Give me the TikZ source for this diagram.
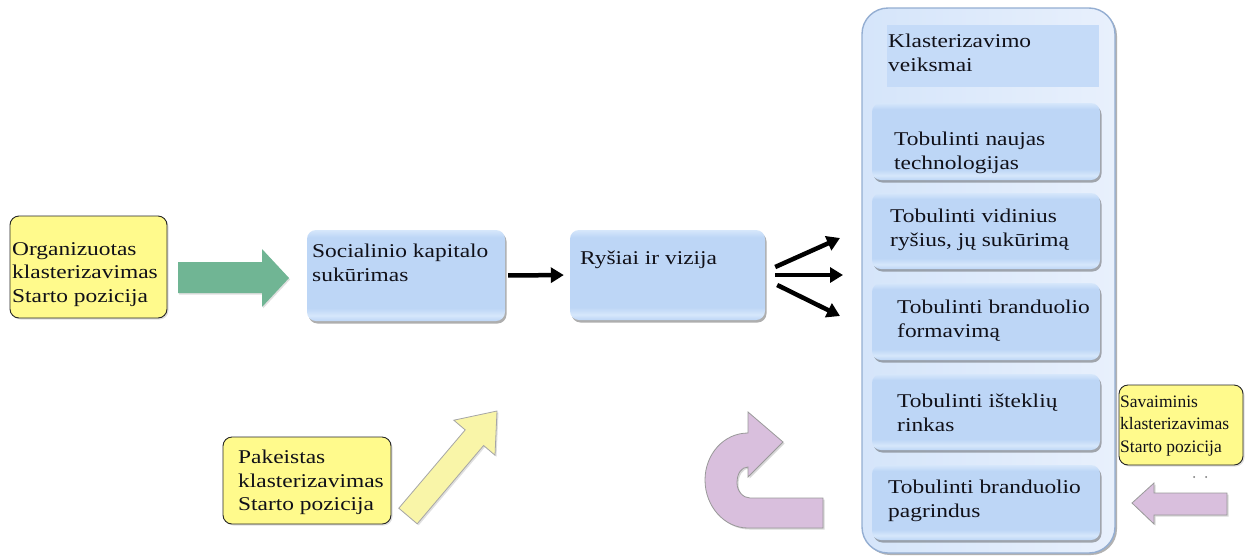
\documentclass[tikz,border=0pt]{standalone}
\usepackage{fontspec}
\setmainfont{Liberation Serif}[FakeStretch=1.2]
\newfontfamily\noteserif{Liberation Serif}
\usetikzlibrary{arrows.meta,shadows}

\definecolor{boxmid}{HTML}{BDD6F6}
\definecolor{boxlight}{HTML}{D6E7FB}
\definecolor{panelleft}{HTML}{D5E5FA}
\definecolor{panelright}{HTML}{E8F0FC}
\definecolor{panelrule}{HTML}{94AED2}
\definecolor{headfill}{HTML}{C5DBF8}
\definecolor{noteyellow}{HTML}{FFFA8C}
\definecolor{arrowgreen}{HTML}{70B594}
\definecolor{arrowyellow}{HTML}{F9F5A8}
\definecolor{arrowpink}{HTML}{D9BFDD}
\definecolor{inktext}{HTML}{101018}

% soft blue fill of the step boxes: light rim at the top, light band near the bottom
\pgfdeclareverticalshading{stepshade}{100bp}{
  color(0bp)=(boxmid); color(25bp)=(boxmid); color(28bp)=(boxlight);
  color(32bp)=(boxmid); color(71bp)=(boxmid); color(75bp)=(boxlight);
  color(100bp)=(boxlight)}

\newcommand{\mainsize}{\fontsize{19.5}{23.5}\selectfont}
\newcommand{\notesize}{\noteserif\fontsize{17.5}{22.5}\selectfont}

\tikzset{
  stepbox/.style={rounded corners=9pt, shade, shading=stepshade, inner sep=0pt,
    drop shadow={shadow xshift=1.5pt, shadow yshift=-2.5pt, opacity=0.45, fill=black!70}},
  panelbox/.style={rounded corners=26pt, draw=panelrule, line width=1.4pt,
    left color=panelleft, right color=panelright, inner sep=0pt,
    drop shadow={shadow xshift=2pt, shadow yshift=-2pt, opacity=0.5, fill=black!60}},
  notebox/.style={rounded corners=9pt, draw=black!85, line width=0.9pt, fill=noteyellow,
    inner sep=0pt, drop shadow={shadow xshift=1.5pt, shadow yshift=-1.5pt, opacity=0.25}},
  txt/.style={anchor=north west, inner sep=0pt, align=left, font=\mainsize, text=inktext},
  notetxt/.style={anchor=north west, inner sep=0pt, align=left, font=\notesize, text=inktext},
  link/.style={line width=4.5pt, black, -{Triangle[length=13pt,width=15pt]}},
  fatgreen/.style={fill=arrowgreen,
    drop shadow={shadow xshift=1pt, shadow yshift=-1.5pt, opacity=0.25}},
  fatyellow/.style={fill=arrowyellow, draw=black!35, line width=0.8pt,
    drop shadow={shadow xshift=1.5pt, shadow yshift=-1.5pt, opacity=0.25}},
  fatpink/.style={fill=arrowpink, draw=black!40, line width=0.8pt,
    drop shadow={shadow xshift=1.5pt, shadow yshift=-1.5pt, opacity=0.3}}
}

\begin{document}
\begin{tikzpicture}[x=1pt,y=-1pt]
\useasboundingbox[fill=white] (0,0) rectangle (1252,555);

% ---- panel of clustering actions ----
\node[panelbox, minimum width=253pt, minimum height=545pt] (panel) at (988.5,280.5) {};
\node[fill=headfill, inner sep=0pt, minimum width=212pt, minimum height=62pt] (head) at (993,56) {};
\node[txt] (headtxt) at (888,34) {Klasterizavimo\\veiksmai};

\node[stepbox, minimum width=228pt, minimum height=77pt] (t1) at (986,141.5) {};
\node[stepbox, minimum width=228pt, minimum height=76pt] (t2) at (986,231) {};
\node[stepbox, minimum width=228pt, minimum height=77pt] (t3) at (986,321.5) {};
\node[stepbox, minimum width=228pt, minimum height=76pt] (t4) at (986,412) {};
\node[stepbox, minimum width=228pt, minimum height=75pt] (t5) at (986,502.5) {};
\node[txt] (t1txt) at (894,132) {Tobulinti naujas\\technologijas};
\node[txt] (t2txt) at (890,209) {Tobulinti vidinius\\ryšius, jų sukūrimą};
\node[txt] (t3txt) at (897,300) {Tobulinti branduolio\\formavimą};
\node[txt] (t4txt) at (897,394) {Tobulinti išteklių\\rinkas};
\node[txt] (t5txt) at (888,480) {Tobulinti branduolio\\pagrindus};

% ---- main chain ----
\node[notebox, minimum width=157pt, minimum height=102pt] (org) at (88.5,267) {};
\node[txt] (orgtxt) at (12,242) {Organizuotas\\klasterizavimas\\Starto pozicija};

\node[stepbox, minimum width=198pt, minimum height=91pt] (soc) at (406,275.5) {};
\node[txt] (soctxt) at (312,244) {Socialinio kapitalo\\sukūrimas};

\node[stepbox, minimum width=195pt, minimum height=90pt] (rys) at (667.5,275) {};
\node[txt] (rystxt) at (580,251) {Ryšiai ir vizija};

% block arrow from the organised start into the chain
\path[fatgreen] (178,262) -- (262,262) -- (262,249) -- (289,278) -- (262,307)
  -- (262,293) -- (178,293) -- cycle;

\draw[link, shorten <=3pt, shorten >=6pt] (soc.east) -- (rys.west);

\coordinate (f1) at (840,238);
\coordinate (f2) at (843,275);
\coordinate (f3) at (840,316);
\draw[link] ([xshift=10pt,yshift=8pt]rys.east) -- (f1);
\draw[link] ([xshift=10pt]rys.east) -- (f2);
\draw[link] ([xshift=12pt,yshift=-10pt]rys.east) -- (f3);

% ---- changed start ----
\node[notebox, minimum width=168pt, minimum height=87pt] (pak) at (307,480.5) {};
\node[txt] (paktxt) at (238,450) {Pakeistas\\klasterizavimas\\Starto pozicija};
\path[fatyellow] (398.8,508.2) -- (465.2,429.9) -- (453.8,420.2) -- (497,411)
  -- (495,455.2) -- (483.6,445.5) -- (417.2,523.8) -- cycle;

% ---- U-turn arrow ----
\path[fatpink] (748,433) .. controls (724,433) and (705,454) .. (705,480)
  .. controls (705,506) and (724,528) .. (748,528) -- (823,528) -- (823,498)
  -- (750,498) .. controls (743,498) and (737,491) .. (737,483)
  .. controls (737,474) and (741,467) .. (748,467) -- (748,477) -- (783,442)
  -- (748,412) -- cycle;

% ---- spontaneous start ----
\node[notebox, minimum width=124pt, minimum height=80pt] (sav) at (1181,425) {};
\node[notetxt] (savtxt) at (1120,395.5) {Savaiminis\\klasterizavimas\\Starto pozicija};
\fill[black!55] (1194,477) circle (1pt) (1206,477) circle (1pt);
\path[fatpink] (1227,493) -- (1154,493) -- (1154,483) -- (1132,503) -- (1154,524)
  -- (1154,515) -- (1227,515) -- cycle;
\end{tikzpicture}
\end{document}
